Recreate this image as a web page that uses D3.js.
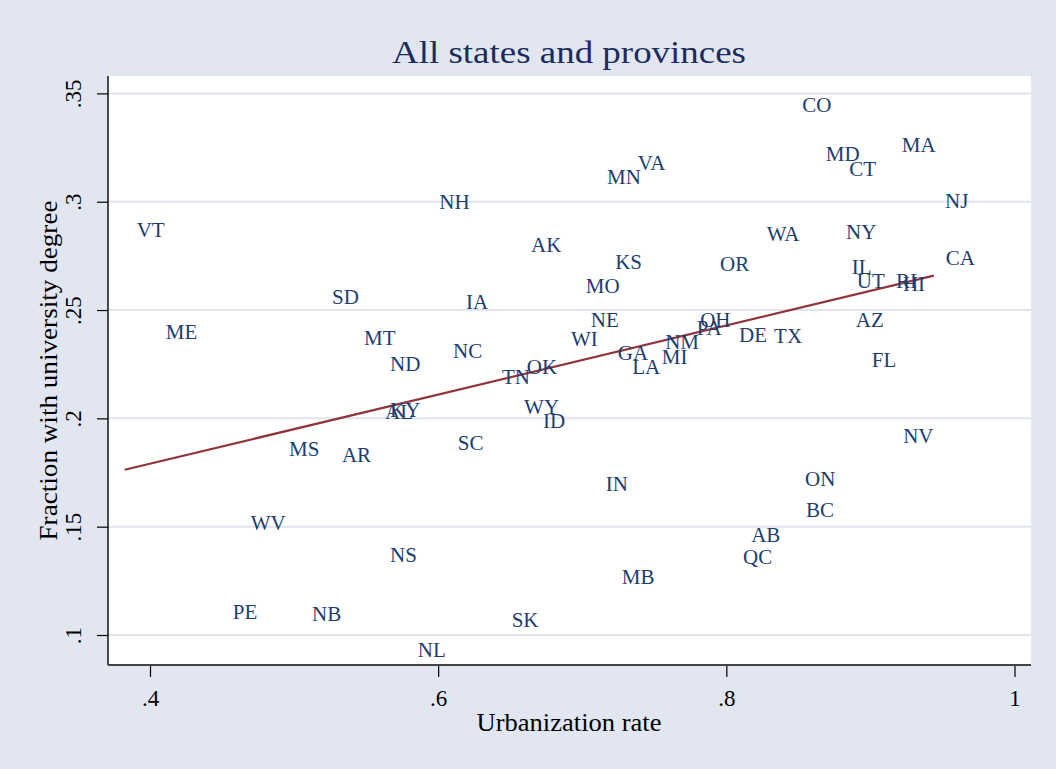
<!DOCTYPE html>
<html>
<head>
<meta charset="utf-8">
<script src="https://cdn.jsdelivr.net/npm/d3@7"></script>
<style>
  html, body { margin: 0; padding: 0; background: #e1e6f0; }
  svg { display: block; }
  text { font-family: "Liberation Serif", "Times New Roman", serif; }
</style>
</head>
<body>
<svg id="chart" width="1056" height="769"></svg>
<script>
// ---- data ----
const labels = ["VT","ME","SD","MT","ND","NH","IA","NC","MS","AR","SC","WV","NS","PE","NB","SK","NL","AL","KY","TN",
                "OK","WY","ID","WI","NE","MO","KS","AK","MN","VA","GA","LA","MI","NM","IN","MB","PA","OH","OR","DE",
                "TX","WA","AB","QC","ON","BC","CO","MD","CT","MA","NJ","NY","CA","IL","UT","RI","HI","AZ","FL","NV"];
const urbanization = [0.3824,0.4026,0.5180,0.5402,0.5583,0.5925,0.6110,0.6020,0.4882,0.5249,0.6053,0.4616,0.5583,0.4491,0.5041,0.6427,0.5775,0.5548,0.5583,0.6360,
                      0.6532,0.6513,0.6645,0.6839,0.6976,0.6941,0.7145,0.6561,0.7089,0.7302,0.7163,0.7263,0.7469,0.7492,0.7080,0.7191,0.7712,0.7735,0.7873,0.8005,
                      0.8248,0.8198,0.8089,0.8033,0.8463,0.8470,0.8443,0.8607,0.8769,0.9135,0.9435,0.8748,0.9440,0.8788,0.8822,0.9095,0.9142,0.8815,0.8926,0.9144];
const university = [0.2869,0.2398,0.2560,0.2371,0.2253,0.3001,0.2539,0.2311,0.1858,0.1831,0.1886,0.1517,0.1369,0.1108,0.1096,0.1069,0.0930,0.2029,0.2038,0.2191,
                    0.2237,0.2052,0.1988,0.2368,0.2454,0.2611,0.2722,0.2800,0.3114,0.3179,0.2301,0.2237,0.2285,0.2352,0.1697,0.1267,0.2417,0.2456,0.2712,0.2385,
                    0.2380,0.2851,0.1464,0.1360,0.1720,0.1577,0.3449,0.3220,0.3151,0.3262,0.3003,0.2862,0.2740,0.2699,0.2634,0.2636,0.2620,0.2456,0.2271,0.1918];
const xTicks = [0.4, 0.6, 0.8, 1];
const xTickLabels = [".4", ".6", ".8", "1"];
const yTicks = [0.1, 0.15, 0.2, 0.25, 0.3, 0.35];
const yTickLabels = [".1", ".15", ".2", ".25", ".3", ".35"];
const title = "All states and provinces";
const xTitle = "Urbanization rate";
const yTitle = "Fraction with university degree";

// ---- layout ----
const W = 1056, H = 769;
const plot = { left: 108, right: 1031, top: 76, bottom: 665 };
const bg = "#e1e6f0", navy = "#1c3d70", maroon = "#90353b";

const x = d3.scaleLinear().domain([0.4, 1]).range([150, 1014.5]);
const y = d3.scaleLinear().domain([0.1, 0.35]).range([635, 93.4]);

const svg = d3.select("#chart");
svg.append("rect").attr("width", W).attr("height", H).attr("fill", bg);
svg.append("rect")
  .attr("x", plot.left).attr("y", plot.top)
  .attr("width", plot.right - plot.left).attr("height", plot.bottom - plot.top)
  .attr("fill", "#ffffff");

// gridlines
svg.append("g").selectAll("line").data(yTicks).join("line")
  .attr("x1", plot.left).attr("x2", plot.right)
  .attr("y1", d => y(d)).attr("y2", d => y(d))
  .attr("stroke", "#dfe4ee").attr("stroke-width", 2);

// fitted line (OLS from data)
const n = urbanization.length;
const mx = d3.mean(urbanization), my = d3.mean(university);
let sxy = 0, sxx = 0;
for (let i = 0; i < n; i++) {
  sxy += (urbanization[i] - mx) * (university[i] - my);
  sxx += (urbanization[i] - mx) ** 2;
}
const slope = sxy / sxx, intercept = my - slope * mx;
const [xmin, xmax] = d3.extent(urbanization);
const fit = [[xmin, intercept + slope * xmin], [xmax, intercept + slope * xmax]];
svg.append("path")
  .attr("d", d3.line().x(d => x(d[0])).y(d => y(d[1]))(fit))
  .attr("fill", "none").attr("stroke", maroon).attr("stroke-width", 2.2);

// marker labels (position 3 o'clock)
svg.append("g").selectAll("text").data(labels).join("text")
  .attr("x", (d, i) => x(urbanization[i]) + 12)
  .attr("y", (d, i) => y(university[i]))
  .attr("dy", "0.34em")
  .attr("font-size", 21)
  .attr("fill", navy)
  .text(d => d);

// y axis
const yAxis = d3.axisLeft(y).tickValues(yTicks).tickFormat((d, i) => yTickLabels[i]).tickSize(11).tickPadding(0);
const gy = svg.append("g").attr("transform", `translate(${plot.left},0)`).call(yAxis);
gy.select(".domain").remove();
gy.append("line").attr("x1", 0).attr("x2", 0).attr("y1", plot.top).attr("y2", plot.bottom)
  .attr("stroke", "#000").attr("stroke-width", 1.4);
gy.selectAll(".tick line").attr("stroke", "#000").attr("stroke-width", 1.2);
gy.selectAll(".tick text")
  .attr("x", null).attr("dy", null)
  .attr("transform", "translate(-27,0) rotate(-90)")
  .attr("text-anchor", "middle")
  .attr("font-size", 23).attr("fill", "#000")
  .attr("font-family", "Liberation Serif, serif");

// x axis
const xAxis = d3.axisBottom(x).tickValues(xTicks).tickFormat((d, i) => xTickLabels[i]).tickSize(12).tickPadding(0);
const gx = svg.append("g").attr("transform", `translate(0,${plot.bottom})`).call(xAxis);
gx.select(".domain").remove();
gx.append("line").attr("x1", plot.left).attr("x2", plot.right).attr("y1", 0).attr("y2", 0)
  .attr("stroke", "#444").attr("stroke-width", 2);
gx.selectAll(".tick line").attr("stroke", "#000").attr("stroke-width", 1.2);
gx.selectAll(".tick text")
  .attr("y", 41).attr("dy", null)
  .attr("font-size", 23).attr("fill", "#000")
  .attr("font-family", "Liberation Serif, serif");

// titles
svg.append("text").attr("x", 569).attr("y", 63).attr("text-anchor", "middle")
  .attr("font-size", 32).attr("textLength", 354).attr("lengthAdjust", "spacingAndGlyphs")
  .attr("fill", "#1c2c5c").text(title);
svg.append("text").attr("x", 569).attr("y", 731).attr("text-anchor", "middle")
  .attr("font-size", 25).attr("textLength", 185).attr("lengthAdjust", "spacingAndGlyphs")
  .attr("fill", "#000").text(xTitle);
svg.append("text").attr("transform", `translate(57,${(plot.top + plot.bottom) / 2}) rotate(-90)`)
  .attr("text-anchor", "middle")
  .attr("font-size", 25).attr("textLength", 340).attr("lengthAdjust", "spacingAndGlyphs")
  .attr("fill", "#000").text(yTitle);
</script>
</body>
</html>
